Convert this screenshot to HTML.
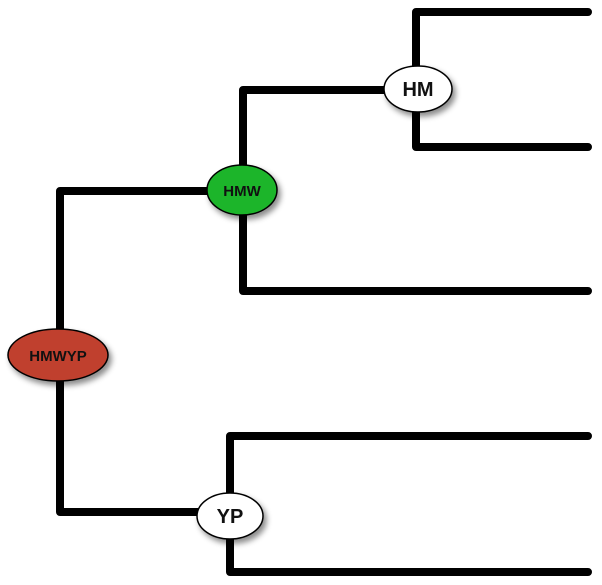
<!DOCTYPE html>
<html><head><style>body{margin:0;background:#fff}svg{display:block}</style></head><body>
<svg width="602" height="585" viewBox="0 0 602 585" xmlns="http://www.w3.org/2000/svg">
<defs><filter id="s" x="-30%" y="-30%" width="170%" height="180%"><feDropShadow dx="3" dy="4" stdDeviation="3" flood-opacity="0.45"/></filter></defs>
<g stroke="#000" stroke-width="8" fill="none" stroke-linejoin="round" stroke-linecap="round">
<polyline points="210,191 60,191 60,512 200,512"/>
<polyline points="390,90 243,90 243,291 588,291"/>
<polyline points="588,12 416,12 416,147 588,147"/>
<polyline points="588,436 230,436 230,572 588,572"/>
</g>
<g stroke="#000" stroke-width="1.5" filter="url(#s)">
<ellipse cx="58" cy="355" rx="50" ry="26" fill="#c0402f"/>
<ellipse cx="242" cy="190" rx="35" ry="25" fill="#1fb52b"/>
<ellipse cx="418" cy="89" rx="34" ry="23" fill="#fff"/>
<ellipse cx="230" cy="516" rx="33" ry="23" fill="#fff"/>
</g>
<g font-family="Liberation Sans, sans-serif" font-weight="bold" text-anchor="middle" fill="#111">
<text x="58" y="361" font-size="15">HMWYP</text>
<text x="242" y="196" font-size="15">HMW</text>
<text x="418" y="96" font-size="20">HM</text>
<text x="230" y="523" font-size="20">YP</text>
</g>
</svg>
</body></html>
